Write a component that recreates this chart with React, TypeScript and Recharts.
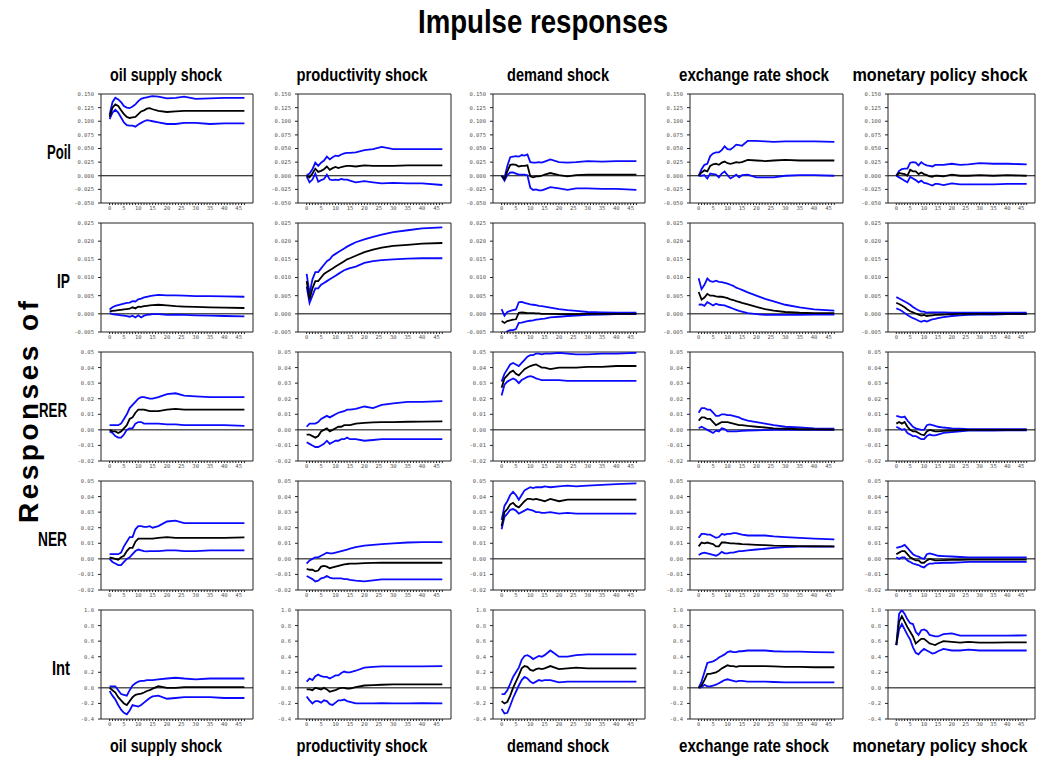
import React from 'react';
import { LineChart, Line, XAxis, YAxis, ReferenceLine } from 'recharts';

const horizons = [0, 1, 2, 3, 4, 5, 6, 7, 8, 9, 10, 11, 12, 13, 14, 15, 17, 20, 23, 26, 30, 35, 40, 47];
const xTicks = Array.from({ length: 48 }, (_, i) => i);

const shocks = ['oil supply shock', 'productivity shock', 'demand shock', 'exchange rate shock', 'monetary policy shock'];
const variables = ['Poil', 'IP', 'RER', 'NER', 'Int'];

const poilTicks = [-0.05, -0.025, 0, 0.025, 0.05, 0.075, 0.1, 0.125, 0.15];
const ipTicks = [-0.005, 0, 0.005, 0.01, 0.015, 0.02, 0.025];
const rerTicks = [-0.02, -0.01, 0, 0.01, 0.02, 0.03, 0.04, 0.05];
const nerTicks = [-0.02, -0.01, 0, 0.01, 0.02, 0.03, 0.04, 0.05];
const intTicks = [-0.4, -0.2, 0, 0.2, 0.4, 0.6, 0.8, 1.0];

// each array: one list per shock (oil, productivity, demand, exchange rate, monetary)
const poilMid = [
  [0.108, 0.125, 0.131, 0.128, 0.120, 0.113, 0.108, 0.106, 0.107, 0.108, 0.113, 0.118, 0.120, 0.123, 0.124, 0.122, 0.119, 0.117, 0.118, 0.119, 0.119, 0.119, 0.119, 0.119],
  [0.000, -0.003, 0.004, 0.013, 0.007, 0.009, 0.012, 0.017, 0.011, 0.014, 0.016, 0.014, 0.016, 0.017, 0.018, 0.018, 0.017, 0.019, 0.018, 0.018, 0.018, 0.019, 0.019, 0.019],
  [0.000, -0.006, 0.008, 0.020, 0.021, 0.020, 0.017, 0.018, 0.018, 0.019, -0.001, -0.003, -0.001, -0.001, 0.000, 0.002, 0.005, 0.001, -0.001, 0.001, 0.002, 0.002, 0.002, 0.002],
  [0.000, 0.006, 0.010, 0.008, 0.018, 0.021, 0.022, 0.020, 0.024, 0.026, 0.023, 0.022, 0.023, 0.025, 0.024, 0.025, 0.029, 0.028, 0.027, 0.028, 0.029, 0.028, 0.028, 0.028],
  [0.000, 0.005, 0.004, 0.003, 0.000, 0.011, 0.008, 0.008, 0.003, 0.006, 0.003, 0.001, -0.001, -0.002, 0.000, 0.000, -0.001, 0.002, 0.000, 0.000, 0.001, 0.000, 0.001, 0.000],
];
const poilUp = [
  [0.112, 0.135, 0.143, 0.140, 0.135, 0.128, 0.125, 0.124, 0.127, 0.131, 0.137, 0.141, 0.143, 0.144, 0.145, 0.146, 0.145, 0.142, 0.143, 0.145, 0.141, 0.142, 0.143, 0.143],
  [0.001, 0.004, 0.012, 0.024, 0.018, 0.024, 0.028, 0.035, 0.030, 0.034, 0.037, 0.036, 0.039, 0.041, 0.042, 0.042, 0.043, 0.047, 0.049, 0.053, 0.049, 0.049, 0.049, 0.049],
  [0.000, -0.004, 0.018, 0.034, 0.035, 0.036, 0.035, 0.038, 0.037, 0.039, 0.025, 0.024, 0.024, 0.025, 0.024, 0.026, 0.030, 0.025, 0.024, 0.025, 0.027, 0.026, 0.027, 0.027],
  [0.000, 0.012, 0.020, 0.022, 0.036, 0.041, 0.043, 0.043, 0.047, 0.054, 0.049, 0.048, 0.052, 0.057, 0.056, 0.055, 0.064, 0.064, 0.063, 0.062, 0.063, 0.063, 0.063, 0.062],
  [0.000, 0.009, 0.012, 0.013, 0.013, 0.024, 0.025, 0.024, 0.019, 0.025, 0.021, 0.019, 0.018, 0.017, 0.020, 0.020, 0.020, 0.022, 0.020, 0.021, 0.023, 0.022, 0.022, 0.021],
];
const poilLo = [
  [0.104, 0.116, 0.121, 0.116, 0.107, 0.098, 0.093, 0.092, 0.092, 0.090, 0.094, 0.097, 0.100, 0.102, 0.101, 0.100, 0.098, 0.095, 0.095, 0.097, 0.097, 0.095, 0.096, 0.096],
  [-0.001, -0.012, -0.007, 0.004, -0.011, -0.008, -0.006, 0.002, -0.007, -0.008, -0.007, -0.008, -0.006, -0.007, -0.007, -0.009, -0.012, -0.010, -0.012, -0.014, -0.013, -0.014, -0.014, -0.017],
  [0.000, -0.009, 0.001, 0.006, 0.006, 0.004, 0.002, 0.002, 0.002, 0.001, -0.022, -0.026, -0.025, -0.027, -0.027, -0.025, -0.021, -0.023, -0.026, -0.023, -0.023, -0.024, -0.024, -0.026],
  [0.000, 0.000, 0.001, -0.005, 0.004, 0.003, 0.002, -0.003, 0.004, 0.008, 0.001, -0.005, -0.002, 0.002, -0.003, 0.001, 0.002, -0.003, -0.003, -0.003, 0.000, 0.001, 0.001, 0.000],
  [0.000, -0.003, -0.006, -0.009, -0.012, -0.002, -0.005, -0.008, -0.012, -0.009, -0.013, -0.014, -0.016, -0.018, -0.015, -0.015, -0.017, -0.014, -0.016, -0.016, -0.016, -0.016, -0.015, -0.015],
];

const ipMid = [
  [0.0007, 0.0008, 0.0009, 0.0010, 0.0011, 0.0012, 0.0013, 0.0014, 0.0018, 0.0015, 0.0020, 0.0019, 0.0021, 0.0022, 0.0023, 0.0024, 0.0025, 0.0023, 0.0021, 0.0020, 0.0019, 0.0018, 0.0017, 0.0016],
  [0.0090, 0.0040, 0.0070, 0.0090, 0.0090, 0.0100, 0.0110, 0.0115, 0.0120, 0.0125, 0.0130, 0.0135, 0.0140, 0.0145, 0.0150, 0.0153, 0.0160, 0.0170, 0.0177, 0.0182, 0.0187, 0.0190, 0.0193, 0.0195],
  [-0.0020, -0.0025, -0.0020, -0.0018, -0.0016, -0.0015, 0.0003, 0.0004, 0.0003, 0.0002, 0.0002, 0.0002, 0.0001, 0.0001, 0.0000, 0.0000, 0.0000, -0.0001, -0.0001, -0.0001, 0.0000, 0.0000, 0.0000, 0.0000],
  [0.0060, 0.0039, 0.0045, 0.0055, 0.0050, 0.0050, 0.0048, 0.0047, 0.0047, 0.0045, 0.0043, 0.0040, 0.0038, 0.0035, 0.0033, 0.0030, 0.0026, 0.0019, 0.0013, 0.0009, 0.0005, 0.0003, 0.0002, 0.0002],
  [0.0030, 0.0027, 0.0023, 0.0018, 0.0012, 0.0007, 0.0004, 0.0001, -0.0002, -0.0005, -0.0003, -0.0006, -0.0005, -0.0004, -0.0003, -0.0003, -0.0002, -0.0001, 0.0000, 0.0000, 0.0000, 0.0000, 0.0000, 0.0000],
];
const ipUp = [
  [0.0012, 0.0018, 0.0022, 0.0024, 0.0026, 0.0028, 0.0030, 0.0031, 0.0035, 0.0034, 0.0040, 0.0042, 0.0045, 0.0047, 0.0049, 0.0050, 0.0052, 0.0051, 0.0051, 0.0050, 0.0049, 0.0049, 0.0048, 0.0047],
  [0.0110, 0.0055, 0.0095, 0.0115, 0.0115, 0.0125, 0.0135, 0.0145, 0.0150, 0.0160, 0.0165, 0.0170, 0.0175, 0.0180, 0.0185, 0.0189, 0.0197, 0.0205, 0.0212, 0.0218, 0.0225, 0.0230, 0.0235, 0.0238],
  [0.0013, -0.0005, 0.0005, 0.0008, 0.0010, 0.0012, 0.0032, 0.0033, 0.0030, 0.0028, 0.0026, 0.0025, 0.0024, 0.0022, 0.0021, 0.0020, 0.0017, 0.0013, 0.0010, 0.0008, 0.0005, 0.0004, 0.0003, 0.0003],
  [0.0098, 0.0068, 0.0080, 0.0097, 0.0090, 0.0088, 0.0091, 0.0088, 0.0087, 0.0085, 0.0083, 0.0080, 0.0077, 0.0072, 0.0069, 0.0066, 0.0059, 0.0050, 0.0041, 0.0034, 0.0025, 0.0018, 0.0012, 0.0009],
  [0.0046, 0.0042, 0.0038, 0.0034, 0.0030, 0.0025, 0.0019, 0.0014, 0.0010, 0.0006, 0.0006, 0.0003, 0.0004, 0.0004, 0.0004, 0.0004, 0.0004, 0.0003, 0.0003, 0.0003, 0.0003, 0.0003, 0.0003, 0.0003],
];
const ipLo = [
  [0.0002, -0.0001, -0.0002, -0.0003, -0.0004, -0.0005, -0.0006, -0.0008, -0.0005, -0.0010, -0.0004, -0.0010, -0.0005, -0.0003, -0.0002, -0.0001, -0.0001, -0.0003, -0.0002, -0.0003, -0.0004, -0.0005, -0.0006, -0.0007],
  [0.0075, 0.0030, 0.0050, 0.0070, 0.0070, 0.0080, 0.0085, 0.0090, 0.0095, 0.0100, 0.0105, 0.0110, 0.0115, 0.0120, 0.0123, 0.0126, 0.0130, 0.0140, 0.0145, 0.0148, 0.0150, 0.0152, 0.0153, 0.0153],
  [-0.0050, -0.0055, -0.0048, -0.0045, -0.0045, -0.0042, -0.0025, -0.0024, -0.0022, -0.0020, -0.0019, -0.0018, -0.0016, -0.0015, -0.0014, -0.0013, -0.0010, -0.0008, -0.0006, -0.0005, -0.0003, -0.0002, -0.0001, -0.0001],
  [0.0025, 0.0026, 0.0022, 0.0032, 0.0028, 0.0023, 0.0028, 0.0025, 0.0024, 0.0023, 0.0020, 0.0017, 0.0014, 0.0011, 0.0008, 0.0006, 0.0002, -0.0001, -0.0003, -0.0003, -0.0003, -0.0003, -0.0002, -0.0002],
  [0.0015, 0.0012, 0.0008, 0.0002, -0.0003, -0.0008, -0.0012, -0.0015, -0.0019, -0.0022, -0.0019, -0.0021, -0.0018, -0.0015, -0.0014, -0.0012, -0.0009, -0.0006, -0.0004, -0.0003, -0.0002, -0.0002, -0.0001, -0.0001],
];

const rerMid = [
  [0.000, -0.001, -0.001, -0.002, -0.001, 0.001, 0.003, 0.007, 0.008, 0.011, 0.013, 0.013, 0.013, 0.0125, 0.012, 0.012, 0.012, 0.013, 0.0135, 0.013, 0.013, 0.013, 0.013, 0.013],
  [-0.003, -0.003, -0.004, -0.005, -0.004, -0.001, 0.000, 0.001, -0.001, 0.000, 0.001, 0.002, 0.002, 0.003, 0.003, 0.003, 0.004, 0.0045, 0.0048, 0.005, 0.005, 0.0052, 0.0053, 0.0055],
  [0.027, 0.033, 0.035, 0.037, 0.038, 0.036, 0.035, 0.037, 0.039, 0.040, 0.041, 0.0415, 0.042, 0.041, 0.040, 0.040, 0.039, 0.040, 0.040, 0.040, 0.0405, 0.0405, 0.041, 0.041],
  [0.006, 0.008, 0.008, 0.007, 0.007, 0.005, 0.003, 0.004, 0.005, 0.005, 0.005, 0.0045, 0.004, 0.0035, 0.003, 0.003, 0.0025, 0.002, 0.0015, 0.001, 0.0007, 0.0004, 0.0003, 0.0002],
  [0.004, 0.005, 0.004, 0.005, 0.002, 0.000, -0.001, -0.001, -0.002, -0.003, -0.0035, -0.001, 0.000, -0.0005, -0.001, -0.001, -0.0007, -0.0004, -0.0002, 0.000, 0.000, 0.000, 0.000, 0.000],
];
const rerUp = [
  [0.003, 0.003, 0.003, 0.003, 0.004, 0.007, 0.010, 0.014, 0.016, 0.018, 0.020, 0.021, 0.021, 0.0205, 0.020, 0.020, 0.021, 0.023, 0.0235, 0.022, 0.0215, 0.021, 0.021, 0.021],
  [0.002, 0.004, 0.004, 0.004, 0.005, 0.007, 0.008, 0.009, 0.008, 0.009, 0.010, 0.011, 0.0115, 0.012, 0.013, 0.013, 0.0135, 0.015, 0.014, 0.016, 0.017, 0.018, 0.018, 0.0185],
  [0.031, 0.036, 0.039, 0.042, 0.043, 0.042, 0.041, 0.043, 0.045, 0.047, 0.048, 0.048, 0.049, 0.049, 0.0485, 0.049, 0.049, 0.0495, 0.049, 0.0485, 0.0485, 0.049, 0.049, 0.0495],
  [0.011, 0.014, 0.014, 0.013, 0.013, 0.011, 0.009, 0.009, 0.010, 0.010, 0.0095, 0.0095, 0.009, 0.0085, 0.008, 0.007, 0.006, 0.005, 0.004, 0.003, 0.002, 0.0015, 0.001, 0.0008],
  [0.009, 0.0085, 0.008, 0.0085, 0.006, 0.004, 0.002, 0.001, 0.0005, 0.000, 0.000, 0.003, 0.0035, 0.003, 0.0025, 0.002, 0.0015, 0.001, 0.0008, 0.0005, 0.0005, 0.0005, 0.0005, 0.0005],
];
const rerLo = [
  [-0.001, -0.002, -0.004, -0.005, -0.005, -0.003, 0.000, 0.001, 0.001, 0.004, 0.005, 0.005, 0.004, 0.004, 0.004, 0.004, 0.004, 0.0035, 0.0035, 0.003, 0.003, 0.003, 0.003, 0.0025],
  [-0.008, -0.009, -0.010, -0.011, -0.011, -0.010, -0.009, -0.007, -0.009, -0.008, -0.007, -0.007, -0.006, -0.006, -0.005, -0.006, -0.006, -0.007, -0.0065, -0.006, -0.006, -0.006, -0.006, -0.006],
  [0.022, 0.029, 0.031, 0.032, 0.033, 0.032, 0.030, 0.032, 0.033, 0.034, 0.0345, 0.034, 0.033, 0.0325, 0.032, 0.032, 0.032, 0.032, 0.0315, 0.0315, 0.0315, 0.0315, 0.0315, 0.0315],
  [0.001, 0.002, 0.001, 0.000, -0.001, -0.002, -0.0005, -0.001, 0.001, 0.0005, -0.001, -0.001, -0.001, -0.001, -0.0008, -0.0006, -0.0004, -0.0003, -0.0002, 0.000, 0.000, 0.000, 0.000, 0.000],
  [0.002, 0.001, 0.000, 0.0005, -0.002, -0.003, -0.004, -0.004, -0.005, -0.006, -0.006, -0.004, -0.003, -0.0035, -0.0035, -0.003, -0.002, -0.0015, -0.001, -0.0005, -0.0005, -0.0004, -0.0003, -0.0003],
];

const nerMid = [
  [0.001, 0.0005, 0.000, -0.0005, 0.001, 0.002, 0.005, 0.007, 0.007, 0.011, 0.013, 0.013, 0.013, 0.013, 0.013, 0.013, 0.0135, 0.014, 0.0135, 0.0135, 0.0135, 0.0135, 0.0135, 0.0138],
  [-0.0065, -0.007, -0.007, -0.008, -0.0075, -0.005, -0.0045, -0.005, -0.006, -0.0055, -0.005, -0.0045, -0.004, -0.0035, -0.0033, -0.003, -0.003, -0.0028, -0.0026, -0.0025, -0.0025, -0.0025, -0.0025, -0.0025],
  [0.021, 0.030, 0.032, 0.035, 0.036, 0.034, 0.033, 0.035, 0.037, 0.0385, 0.0385, 0.038, 0.0385, 0.038, 0.0375, 0.037, 0.0385, 0.037, 0.038, 0.038, 0.038, 0.038, 0.038, 0.038],
  [0.008, 0.0105, 0.010, 0.0105, 0.010, 0.0095, 0.008, 0.008, 0.0105, 0.0105, 0.0103, 0.010, 0.010, 0.0098, 0.0097, 0.0095, 0.0093, 0.009, 0.0088, 0.0085, 0.0083, 0.0082, 0.0081, 0.008],
  [0.003, 0.004, 0.005, 0.005, 0.003, 0.001, 0.000, -0.001, -0.001, -0.0025, -0.0025, -0.001, 0.000, -0.0005, -0.001, -0.001, -0.0008, -0.0007, -0.0006, -0.0005, -0.0005, -0.0005, -0.0005, -0.0005],
];
const nerUp = [
  [0.003, 0.003, 0.003, 0.003, 0.004, 0.008, 0.011, 0.014, 0.014, 0.019, 0.021, 0.021, 0.0205, 0.0205, 0.021, 0.020, 0.021, 0.024, 0.0245, 0.023, 0.023, 0.023, 0.023, 0.023],
  [-0.003, -0.001, 0.000, 0.001, 0.001, 0.002, 0.003, 0.004, 0.0035, 0.0035, 0.004, 0.0045, 0.005, 0.0055, 0.006, 0.0065, 0.0075, 0.0085, 0.009, 0.0095, 0.010, 0.0105, 0.0108, 0.0108],
  [0.025, 0.034, 0.037, 0.041, 0.043, 0.041, 0.038, 0.041, 0.044, 0.045, 0.046, 0.0455, 0.046, 0.046, 0.046, 0.0465, 0.046, 0.0465, 0.047, 0.0465, 0.047, 0.0475, 0.048, 0.0485],
  [0.0135, 0.016, 0.016, 0.0155, 0.0155, 0.0145, 0.0135, 0.014, 0.016, 0.0155, 0.016, 0.016, 0.0165, 0.0165, 0.016, 0.0155, 0.015, 0.015, 0.015, 0.0145, 0.014, 0.0135, 0.013, 0.0125],
  [0.007, 0.0075, 0.008, 0.009, 0.007, 0.005, 0.003, 0.002, 0.0015, 0.0005, 0.000, 0.003, 0.0035, 0.003, 0.0025, 0.002, 0.0018, 0.0015, 0.0012, 0.001, 0.001, 0.001, 0.001, 0.001],
];
const nerLo = [
  [0.000, -0.002, -0.003, -0.004, -0.004, -0.002, 0.000, 0.001, 0.003, 0.005, 0.006, 0.0055, 0.005, 0.0048, 0.005, 0.005, 0.005, 0.0055, 0.0055, 0.005, 0.005, 0.0055, 0.0055, 0.0055],
  [-0.011, -0.012, -0.013, -0.0145, -0.014, -0.0125, -0.012, -0.011, -0.012, -0.0125, -0.0125, -0.0125, -0.0125, -0.013, -0.013, -0.0135, -0.014, -0.0145, -0.0138, -0.0132, -0.0132, -0.0132, -0.0132, -0.0132],
  [0.019, 0.027, 0.029, 0.0315, 0.032, 0.031, 0.029, 0.030, 0.031, 0.032, 0.0315, 0.031, 0.030, 0.030, 0.0295, 0.0295, 0.030, 0.029, 0.0295, 0.029, 0.029, 0.029, 0.029, 0.029],
  [0.0025, 0.0035, 0.004, 0.0035, 0.003, 0.0025, 0.002, 0.003, 0.0045, 0.0035, 0.0035, 0.004, 0.004, 0.0045, 0.005, 0.005, 0.0055, 0.006, 0.0065, 0.007, 0.0075, 0.0078, 0.0078, 0.0078],
  [0.001, 0.000, 0.001, 0.001, -0.001, -0.002, -0.003, -0.0035, -0.004, -0.005, -0.0055, -0.004, -0.003, -0.003, -0.0028, -0.0028, -0.0025, -0.0025, -0.0022, -0.002, -0.002, -0.002, -0.002, -0.002],
];

const intMid = [
  [0.00, -0.03, -0.06, -0.12, -0.16, -0.20, -0.22, -0.17, -0.12, -0.09, -0.08, -0.075, -0.06, -0.04, -0.03, -0.01, 0.02, 0.00, 0.00, 0.01, 0.01, 0.01, 0.01, 0.01],
  [-0.02, -0.02, -0.03, 0.00, -0.01, -0.02, 0.00, -0.02, -0.05, -0.04, -0.03, -0.01, 0.00, 0.00, -0.01, -0.01, 0.01, 0.03, 0.035, 0.04, 0.045, 0.045, 0.045, 0.045],
  [-0.17, -0.20, -0.18, -0.10, 0.00, 0.08, 0.16, 0.25, 0.28, 0.27, 0.23, 0.22, 0.24, 0.25, 0.24, 0.25, 0.28, 0.24, 0.25, 0.26, 0.25, 0.25, 0.25, 0.25],
  [0.00, 0.03, 0.10, 0.18, 0.18, 0.19, 0.20, 0.22, 0.25, 0.27, 0.29, 0.28, 0.28, 0.27, 0.28, 0.28, 0.28, 0.28, 0.28, 0.275, 0.27, 0.27, 0.265, 0.265],
  [0.55, 0.85, 0.92, 0.85, 0.78, 0.72, 0.66, 0.57, 0.60, 0.63, 0.63, 0.60, 0.57, 0.56, 0.55, 0.57, 0.60, 0.59, 0.58, 0.59, 0.58, 0.58, 0.585, 0.585],
];
const intUp = [
  [0.02, 0.02, 0.02, -0.03, -0.08, -0.09, -0.10, -0.03, 0.03, 0.06, 0.08, 0.09, 0.09, 0.10, 0.10, 0.10, 0.11, 0.12, 0.13, 0.12, 0.11, 0.12, 0.12, 0.12],
  [0.08, 0.12, 0.10, 0.15, 0.17, 0.15, 0.14, 0.14, 0.12, 0.14, 0.16, 0.16, 0.19, 0.21, 0.20, 0.20, 0.22, 0.26, 0.27, 0.275, 0.275, 0.275, 0.275, 0.28],
  [-0.08, -0.08, -0.03, 0.05, 0.14, 0.20, 0.26, 0.36, 0.41, 0.42, 0.40, 0.37, 0.39, 0.41, 0.40, 0.42, 0.48, 0.40, 0.40, 0.42, 0.43, 0.43, 0.43, 0.43],
  [0.00, 0.08, 0.20, 0.32, 0.33, 0.34, 0.36, 0.39, 0.41, 0.43, 0.46, 0.47, 0.46, 0.46, 0.47, 0.47, 0.48, 0.48, 0.48, 0.47, 0.465, 0.465, 0.46, 0.455],
  [0.55, 0.95, 1.00, 0.95, 0.88, 0.83, 0.82, 0.72, 0.68, 0.74, 0.75, 0.73, 0.68, 0.67, 0.66, 0.66, 0.69, 0.70, 0.67, 0.67, 0.67, 0.67, 0.67, 0.675],
];
const intLo = [
  [-0.04, -0.10, -0.15, -0.22, -0.28, -0.32, -0.34, -0.29, -0.22, -0.23, -0.24, -0.22, -0.19, -0.16, -0.13, -0.11, -0.10, -0.14, -0.13, -0.12, -0.12, -0.12, -0.13, -0.13],
  [-0.11, -0.16, -0.20, -0.17, -0.17, -0.19, -0.16, -0.17, -0.21, -0.22, -0.19, -0.16, -0.16, -0.15, -0.17, -0.18, -0.20, -0.20, -0.20, -0.195, -0.20, -0.20, -0.195, -0.20],
  [-0.27, -0.33, -0.32, -0.23, -0.13, -0.05, 0.03, 0.10, 0.14, 0.12, 0.08, 0.06, 0.08, 0.10, 0.09, 0.10, 0.10, 0.07, 0.08, 0.08, 0.08, 0.08, 0.08, 0.08],
  [0.00, 0.01, 0.04, 0.02, 0.02, 0.03, 0.04, 0.06, 0.08, 0.10, 0.11, 0.10, 0.09, 0.08, 0.09, 0.09, 0.08, 0.08, 0.08, 0.075, 0.07, 0.07, 0.07, 0.07],
  [0.55, 0.75, 0.82, 0.75, 0.68, 0.62, 0.52, 0.45, 0.43, 0.47, 0.50, 0.48, 0.46, 0.44, 0.45, 0.47, 0.50, 0.48, 0.48, 0.49, 0.48, 0.48, 0.48, 0.48],
];

const rows = [
  { mid: poilMid, up: poilUp, lo: poilLo, ticks: poilTicks, digits: 3 },
  { mid: ipMid, up: ipUp, lo: ipLo, ticks: ipTicks, digits: 3 },
  { mid: rerMid, up: rerUp, lo: rerLo, ticks: rerTicks, digits: 2 },
  { mid: nerMid, up: nerUp, lo: nerLo, ticks: nerTicks, digits: 2 },
  { mid: intMid, up: intUp, lo: intLo, ticks: intTicks, digits: 1 },
];

// layout
const colLeft = [101, 298, 493, 690, 888];
const colWidth = [152, 153, 152, 153, 147];
const rowTop = [94, 223, 352, 481, 610];
const PLOT_H = 109;
const Y_W = 40;
const titleX = [166, 362, 558, 754, 940];
const titleW = [112, 131, 102, 150, 175];
const labelX = [71, 70, 67, 67, 70];
const labelW = [24, 13, 28, 29, 18];

const BLUE = '#0a0aff';
const AXIS = '#222';
const tickFont = { fontSize: 5.5, fill: '#555', fontFamily: '"DejaVu Sans Mono", monospace' };
const headFont = '"Liberation Sans Narrow", "Liberation Sans", Arial, sans-serif';

const Panel = ({ up, mid, lo, ticks, digits, width }) => {
  const data = horizons.map((h, i) => ({ h, up: up[i], mid: mid[i], lo: lo[i] }));
  const yMax = ticks[ticks.length - 1];
  return (
    <LineChart
      width={Y_W + width + 4}
      height={5 + PLOT_H + 14}
      data={data}
      margin={{ top: 5, right: 4, bottom: 0, left: 0 }}
    >
      <XAxis
        dataKey="h"
        type="number"
        domain={[-3, 50]}
        ticks={xTicks}
        interval={0}
        tickFormatter={(v) => (v % 5 === 0 ? String(v) : '')}
        tickSize={2}
        tickMargin={1}
        height={14}
        stroke={AXIS}
        tick={tickFont}
        allowDataOverflow
      />
      <YAxis
        type="number"
        domain={[ticks[0], yMax]}
        ticks={ticks}
        interval={0}
        tickFormatter={(v) => v.toFixed(digits)}
        width={Y_W}
        tickSize={3}
        tickMargin={4}
        stroke={AXIS}
        tick={tickFont}
        allowDataOverflow
      />
      <ReferenceLine y={yMax} stroke={AXIS} />
      <ReferenceLine x={50} stroke={AXIS} />
      <ReferenceLine y={0} stroke="#000" />
      <Line dataKey="up" stroke={BLUE} strokeWidth={1.8} dot={false} isAnimationActive={false} />
      <Line dataKey="lo" stroke={BLUE} strokeWidth={1.8} dot={false} isAnimationActive={false} />
      <Line dataKey="mid" stroke="#000" strokeWidth={1.8} dot={false} isAnimationActive={false} />
    </LineChart>
  );
};

export default function App() {
  return (
    <div style={{ position: 'absolute', left: 0, top: 0, width: 1041, height: 766, background: '#fff' }}>
      {rows.map((r, ri) =>
        shocks.map((s, ci) => (
          <div
            key={`${ri}-${ci}`}
            style={{ position: 'absolute', left: colLeft[ci] - Y_W, top: rowTop[ri] - 5 }}
          >
            <Panel
              up={r.up[ci]}
              mid={r.mid[ci]}
              lo={r.lo[ci]}
              ticks={r.ticks}
              digits={r.digits}
              width={colWidth[ci]}
            />
          </div>
        ))
      )}
      <svg
        width={1041}
        height={766}
        style={{ position: 'absolute', left: 0, top: 0, pointerEvents: 'none' }}
        fontFamily={headFont}
        fontWeight="bold"
      >
        <text x={543} y={33} fontSize={34} textAnchor="middle" textLength={250} lengthAdjust="spacingAndGlyphs">
          Impulse responses
        </text>
        {shocks.map((s, i) => (
          <text key={`t${i}`} x={titleX[i]} y={81} fontSize={18} textAnchor="middle" textLength={titleW[i]} lengthAdjust="spacingAndGlyphs">
            {s}
          </text>
        ))}
        {shocks.map((s, i) => (
          <text key={`b${i}`} x={titleX[i]} y={752} fontSize={18} textAnchor="middle" textLength={titleW[i]} lengthAdjust="spacingAndGlyphs">
            {s}
          </text>
        ))}
        {variables.map((v, i) => (
          <text key={`v${i}`} x={labelX[i]} y={rowTop[i] + PLOT_H / 2 + 10.5} fontSize={20} textAnchor="end" textLength={labelW[i]} lengthAdjust="spacingAndGlyphs">
            {v}
          </text>
        ))}
        <text transform="translate(38,412) rotate(-90)" x={0} y={0} fontSize={28} textAnchor="middle" textLength={222} lengthAdjust="spacing">
          Responses of
        </text>
      </svg>
    </div>
  );
}
